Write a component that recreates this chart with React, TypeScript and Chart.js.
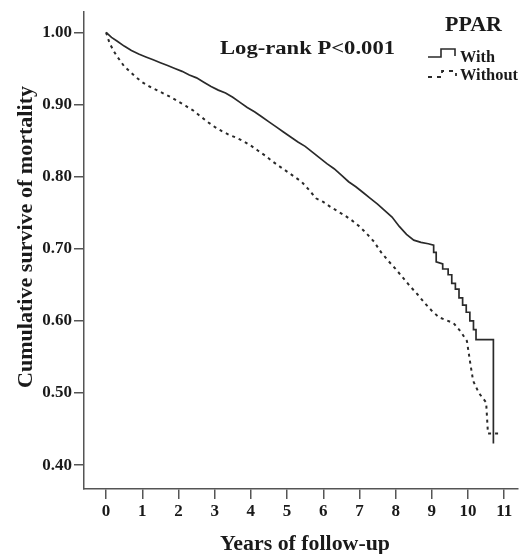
import React, { useEffect, useRef } from "react";
import { Chart, registerables } from "chart.js";

Chart.register(...registerables);

const withTimes = [0, 0.15, 0.3, 0.5, 0.7, 0.9, 1.1, 1.3, 1.5, 1.7, 1.9, 2.1, 2.3, 2.5, 2.7, 2.9, 3.1, 3.3, 3.5, 3.7, 3.9, 4.1, 4.3, 4.5, 4.7, 4.9, 5.1, 5.3, 5.5, 5.7, 5.9, 6.1, 6.3, 6.5, 6.7, 6.9, 7.1, 7.3, 7.5, 7.7, 7.9, 8.1, 8.3, 8.5, 8.7, 8.9, 9.05, 9.05, 9.12, 9.12, 9.3, 9.3, 9.45, 9.45, 9.55, 9.55, 9.65, 9.65, 9.75, 9.75, 9.85, 9.85, 9.95, 9.95, 10.05, 10.05, 10.15, 10.15, 10.22, 10.22, 10.7, 10.7];
const withSurvival = [1.0, 0.993, 0.988, 0.981, 0.975, 0.97, 0.966, 0.962, 0.958, 0.954, 0.95, 0.946, 0.941, 0.937, 0.931, 0.925, 0.92, 0.916, 0.91, 0.903, 0.896, 0.89, 0.883, 0.876, 0.869, 0.862, 0.855, 0.848, 0.842, 0.834, 0.826, 0.818, 0.811, 0.802, 0.793, 0.786, 0.778, 0.77, 0.762, 0.753, 0.744, 0.731, 0.72, 0.712, 0.709, 0.707, 0.705, 0.695, 0.695, 0.682, 0.679, 0.672, 0.672, 0.664, 0.664, 0.652, 0.652, 0.644, 0.644, 0.632, 0.632, 0.622, 0.622, 0.612, 0.612, 0.6, 0.6, 0.588, 0.588, 0.574, 0.574, 0.43];

const withoutTimes = [0, 0.05, 0.1, 0.2, 0.3, 0.4, 0.5, 0.65, 0.8, 1.0, 1.2, 1.4, 1.6, 1.8, 2.0, 2.2, 2.4, 2.6, 2.8, 3.0, 3.2, 3.4, 3.6, 3.8, 4.0, 4.2, 4.4, 4.6, 4.8, 5.0, 5.2, 5.4, 5.6, 5.8, 6.0, 6.2, 6.4, 6.6, 6.8, 7.0, 7.2, 7.4, 7.6, 7.8, 8.0, 8.2, 8.4, 8.6, 8.8, 9.0, 9.2, 9.4, 9.6, 9.8, 9.97, 10.05, 10.14, 10.3, 10.5, 10.55, 10.94];
const withoutSurvival = [1.0, 0.992, 0.985, 0.975, 0.967, 0.96, 0.953, 0.946, 0.939, 0.931, 0.925, 0.92, 0.915, 0.91, 0.904, 0.898, 0.892, 0.884, 0.876, 0.869, 0.863, 0.858, 0.854, 0.849, 0.843, 0.836, 0.829, 0.821, 0.814, 0.807, 0.8, 0.793, 0.782, 0.77, 0.765, 0.758, 0.752, 0.746, 0.739, 0.731, 0.721, 0.71, 0.695, 0.683, 0.672, 0.66, 0.648, 0.637, 0.625, 0.614, 0.605, 0.601, 0.597, 0.585, 0.572, 0.545, 0.517, 0.5, 0.487, 0.444, 0.444];

const xTicks = [0, 1, 2, 3, 4, 5, 6, 7, 8, 9, 10, 11];
const yTicks = [0.4, 0.5, 0.6, 0.7, 0.8, 0.9, 1.0];

const seriesLabels = ["With", "Without"];
const legendTitle = "PPAR";
const annotation = "Log-rank P<0.001";
const xTitle = "Years of follow-up";
const yTitle = "Cumulative survive of mortality";

const FONT = '"Liberation Serif", "Times New Roman", serif';
const INK = "#1a1a1a";

function fitText(ctx: CanvasRenderingContext2D, text: string, x: number, y: number, w: number, size: number, rotate = false) {
  ctx.save();
  ctx.font = `bold ${size}px ${FONT}`;
  ctx.fillStyle = INK;
  ctx.textBaseline = "alphabetic";
  ctx.textAlign = "left";
  const m = ctx.measureText(text).width;
  ctx.translate(x, y);
  if (rotate) ctx.rotate(-Math.PI / 2);
  ctx.scale(w / m, 1);
  ctx.fillText(text, 0, 0);
  ctx.restore();
}

const textPlugin = {
  id: "kmText",
  afterDraw(chart: any) {
    const ctx: CanvasRenderingContext2D = chart.ctx;
    fitText(ctx, annotation, 220, 53.5, 175, 19);
    fitText(ctx, legendTitle, 445, 30.5, 57, 21);
    fitText(ctx, seriesLabels[0], 460, 62, 35, 17);
    fitText(ctx, seriesLabels[1], 460, 79.5, 58, 17);
    fitText(ctx, xTitle, 220, 550, 170, 20);
    fitText(ctx, yTitle, 32, 388, 302, 21, true);

    ctx.save();
    ctx.strokeStyle = "#2a2a2a";
    ctx.lineWidth = 1.6;
    ctx.beginPath();
    ctx.moveTo(428, 57);
    ctx.lineTo(441, 57);
    ctx.lineTo(441, 49);
    ctx.lineTo(455, 49);
    ctx.lineTo(455, 56);
    ctx.stroke();
    ctx.setLineDash([4, 5]);
    ctx.lineWidth = 1.8;
    ctx.beginPath();
    ctx.moveTo(428, 77);
    ctx.lineTo(442, 77);
    ctx.lineTo(442, 71);
    ctx.lineTo(456, 71);
    ctx.lineTo(456, 76);
    ctx.stroke();
    ctx.restore();
  },
};

export default function App() {
  const ref = useRef<HTMLCanvasElement | null>(null);

  useEffect(() => {
    if (!ref.current) return;
    const chart = new Chart(ref.current, {
      type: "line",
      data: {
        datasets: [
          {
            label: seriesLabels[0],
            data: withTimes.map((t, i) => ({ x: t, y: withSurvival[i] })),
            borderColor: "#2a2a2a",
            borderWidth: 1.7,
            pointRadius: 0,
            tension: 0,
            fill: false,
          },
          {
            label: seriesLabels[1],
            data: withoutTimes.map((t, i) => ({ x: t, y: withoutSurvival[i] })),
            borderColor: "#2a2a2a",
            borderWidth: 2,
            borderDash: [3, 4],
            pointRadius: 0,
            tension: 0,
            fill: false,
          },
        ],
      },
      options: {
        responsive: false,
        animation: false,
        layout: { padding: { top: 10, right: 3, left: 0, bottom: 0 } },
        plugins: { legend: { display: false }, tooltip: { enabled: false } },
        scales: {
          x: {
            type: "linear",
            min: -0.61,
            max: 11.38,
            afterBuildTicks: (s: any) => {
              s.ticks = xTicks.map((v) => ({ value: v }));
            },
            afterFit: (s: any) => {
              s.height = 65;
            },
            ticks: {
              font: { family: FONT, size: 17, weight: "bold" },
              color: INK,
              padding: 2,
              maxRotation: 0,
              callback: (v: any) => String(v),
            },
            grid: { drawOnChartArea: false, drawTicks: true, tickLength: 10, color: "#555", lineWidth: 1.5 },
            border: { display: true, color: "#555", width: 1.5 },
          },
          y: {
            type: "linear",
            min: 0.367,
            max: 1.028,
            afterBuildTicks: (s: any) => {
              s.ticks = yTicks.map((v) => ({ value: v }));
            },
            afterFit: (s: any) => {
              s.width = 84;
            },
            ticks: {
              font: { family: FONT, size: 17, weight: "bold" },
              color: INK,
              padding: 2,
              callback: (v: any) => Number(v).toFixed(2),
            },
            grid: { drawOnChartArea: false, drawTicks: true, tickLength: 10, color: "#555", lineWidth: 1.5 },
            border: { display: true, color: "#555", width: 1.5 },
          },
        },
      },
      plugins: [textPlugin],
    });
    return () => chart.destroy();
  }, []);

  return (
    <div style={{ position: "fixed", left: 0, top: 0, width: 521, height: 554, background: "#fff" }}>
      <canvas ref={ref} width={521} height={554} />
    </div>
  );
}
